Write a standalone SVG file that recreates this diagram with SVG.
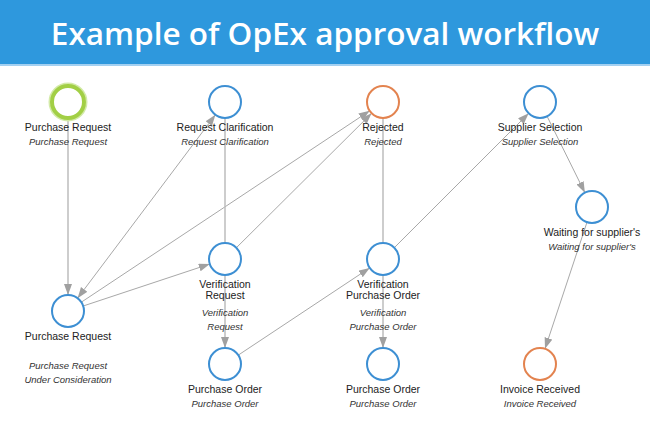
<svg xmlns="http://www.w3.org/2000/svg" width="650" height="421" viewBox="0 0 650 421">
<style>
.n{fill:#fff;stroke:#3d8fd3;stroke-width:2}
.o{fill:#fff;stroke:#e3834f;stroke-width:2}
.e{stroke:#a8a8a8;stroke-width:1;fill:none}
.v{stroke:#bdbdbd;stroke-width:1.5;fill:none}
.t{font-family:"Liberation Sans",Arial,sans-serif;font-size:10.5px;fill:#222;text-anchor:middle}
.i{font-family:"Liberation Sans",Arial,sans-serif;font-size:9.5px;font-style:italic;fill:#333;text-anchor:middle}
</style>
<defs>
<marker id="a" markerUnits="userSpaceOnUse" markerWidth="12" markerHeight="9" refX="11" refY="4" orient="auto-start-reverse">
<path d="M0,0 L11,4 L0,8 z" fill="#a0a0a0"/>
</marker>
</defs>
<rect width="650" height="421" fill="#fff"/>
<rect width="650" height="64" fill="#2e98dd"/>
<rect y="64" width="650" height="2" fill="#a3d0f1"/>
<text x="325" y="45" font-family="'Open Sans',sans-serif" font-size="31.5" font-weight="600" fill="#fff" text-anchor="middle">Example of OpEx approval workflow</text>
<g id="connectors">
<line class="v" x1="68" y1="120" x2="68" y2="295" marker-end="url(#a)"/>
<line class="e" x1="77.6" y1="298.2" x2="215.4" y2="114.8" marker-start="url(#a)" marker-end="url(#a)"/>
<line class="e" x1="81.3" y1="302.2" x2="369.7" y2="110.8" marker-end="url(#a)"/>
<line class="e" x1="83.2" y1="306" x2="209.8" y2="264" marker-end="url(#a)"/>
<line class="v" x1="225" y1="118" x2="225" y2="243"/>
<line class="e" x1="236.4" y1="247.7" x2="371.6" y2="113.3" marker-end="url(#a)"/>
<line class="v" x1="225" y1="275" x2="225" y2="348" marker-end="url(#a)"/>
<line class="e" x1="238.3" y1="355.1" x2="369.7" y2="267.9" marker-end="url(#a)"/>
<line class="v" x1="383" y1="243" x2="383" y2="118"/>
<line class="e" x1="394.3" y1="247.7" x2="528.7" y2="113.3" marker-end="url(#a)"/>
<line class="v" x1="383" y1="275" x2="383" y2="348" marker-end="url(#a)"/>
<line class="e" x1="547.1" y1="116.3" x2="584.9" y2="192.7" marker-end="url(#a)"/>
<line class="e" x1="587" y1="222.2" x2="545" y2="348.8" marker-end="url(#a)"/>
</g>
<g id="start">
<circle cx="68" cy="102" r="18.5" fill="none" stroke="#d3eaa8" stroke-width="2"/>
<circle cx="68" cy="102" r="16" fill="#fff" stroke="#a2cf45" stroke-width="4"/>
<text class="t" x="68" y="131">Purchase Request</text>
<text class="i" x="68" y="145">Purchase Request</text>
</g>
<g id="clarification">
<circle class="n" cx="225" cy="102" r="16"/>
<text class="t" x="225" y="131">Request Clarification</text>
<text class="i" x="225" y="145">Request Clarification</text>
</g>
<g id="rejected">
<circle class="o" cx="383" cy="102" r="16"/>
<text class="t" x="383" y="131">Rejected</text>
<text class="i" x="383" y="145">Rejected</text>
</g>
<g id="supplier">
<circle class="n" cx="540" cy="102" r="16"/>
<text class="t" x="540" y="131">Supplier Selection</text>
<text class="i" x="540" y="145">Supplier Selection</text>
</g>
<g id="waiting">
<circle class="n" cx="592" cy="207" r="16"/>
<text class="t" x="592" y="236">Waiting for supplier's</text>
<text class="i" x="592" y="250">Waiting for supplier's</text>
</g>
<g id="consideration">
<circle class="n" cx="68" cy="311" r="16"/>
<text class="t" x="68" y="340">Purchase Request</text>
<text class="i" x="68" y="369">Purchase Request</text>
<text class="i" x="68" y="383">Under Consideration</text>
</g>
<g id="verif-request">
<circle class="n" cx="225" cy="259" r="16"/>
<text class="t" x="225" y="288">Verification</text>
<text class="t" x="225" y="299">Request</text>
<text class="i" x="225" y="316">Verification</text>
<text class="i" x="225" y="330">Request</text>
</g>
<g id="po1">
<circle class="n" cx="225" cy="364" r="16"/>
<text class="t" x="225" y="393">Purchase Order</text>
<text class="i" x="225" y="407">Purchase Order</text>
</g>
<g id="verif-po">
<circle class="n" cx="383" cy="259" r="16"/>
<text class="t" x="383" y="288">Verification</text>
<text class="t" x="383" y="299">Purchase Order</text>
<text class="i" x="383" y="316">Verification</text>
<text class="i" x="383" y="330">Purchase Order</text>
</g>
<g id="po2">
<circle class="n" cx="383" cy="364" r="16"/>
<text class="t" x="383" y="393">Purchase Order</text>
<text class="i" x="383" y="407">Purchase Order</text>
</g>
<g id="invoice">
<circle class="o" cx="540" cy="364" r="16"/>
<text class="t" x="540" y="393">Invoice Received</text>
<text class="i" x="540" y="407">Invoice Received</text>
</g>
</svg>
